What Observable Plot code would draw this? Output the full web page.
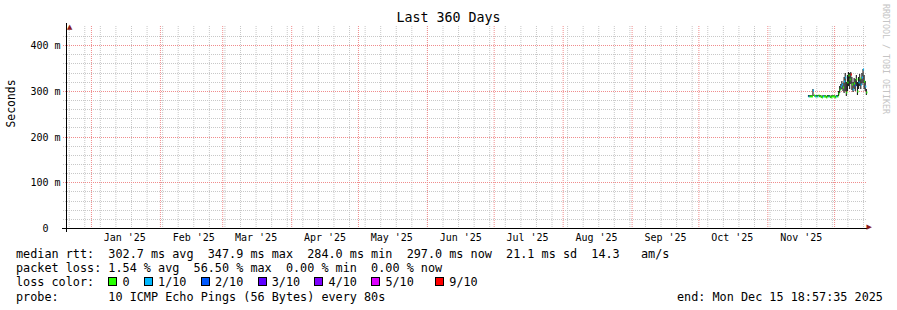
<!DOCTYPE html>
<html>
<head>
<meta charset="utf-8">
<script src="https://cdn.jsdelivr.net/npm/d3@7"></script>
<script src="https://cdn.jsdelivr.net/npm/@observablehq/plot@0.6"></script>
<style>
  body { margin: 0; background: #fff; }
  #wrap { position: relative; width: 897px; height: 310px; overflow: hidden; font-family: "DejaVu Sans Mono", monospace; color: #000; }
  #chart { position: absolute; left: 0; top: 0; }
  #title { position: absolute; left: 0; top: 10px; width: 897px; text-align: center; font-size: 13.3px; line-height: 16px; }
  #wm { position: absolute; left: 881px; top: 4px; writing-mode: vertical-rl; font-size: 8.3px; line-height: 10px; color: #c4c4c4; white-space: pre; }
  #legend { position: absolute; left: 16px; top: 247px; font-size: 11.8px; line-height: 14.2px; white-space: pre; }
  #legend .row { position: relative; height: 14.2px; }
  .box { display: inline-block; width: 9px; height: 9px; box-sizing: border-box; border: 1px solid #000; margin-right: calc(2ch - 9px); vertical-align: baseline; }
  #end { position: absolute; left: 661px; top: 0; }
</style>
</head>
<body>
<div id="wrap">
  <div id="chart"></div>
  <div id="title"></div>
  <div id="wm"></div>
  <div id="legend"></div>
</div>
<script>
// ---- data ----
const titleText = "Last 360 Days";
const yAxisTitle = "Seconds";
const watermark = "RRDTOOL / TOBI OETIKER";
const periodStart = new Date("2024-12-20T18:57:35Z");
const periodEnd = new Date("2025-12-15T18:57:35Z");
const seriesStart = new Date("2025-11-19T06:00:00Z");
const stepHours = 12;

const medianMs = [
  289,289,288,289,303,290,289,288,289,290,
  288,289,287,288,289,288,287,288,289,288,
  287,288,289,288,287,288,289,296,305,310,
  316,308,322,330,298,320,335,325,338,315,
  305,318,312,325,300,320,328,315,330,347,
  322,310,297
];
const smokeLowMs = [
  287,287,286,287,288,288,287,286,287,288,
  286,287,285,286,287,286,285,286,287,286,
  284,286,287,286,285,286,287,288,295,302,
  305,300,295,300,288,300,310,305,315,302,
  298,305,300,310,292,305,310,305,312,318,
  305,300,290
];
const smokeHighMs = [
  291,291,290,291,304,292,291,290,291,292,
  290,291,289,290,291,290,289,290,291,290,
  289,290,291,290,289,290,291,300,310,315,
  322,318,330,340,320,335,341,340,341,330,
  320,328,326,335,320,330,336,325,340,348,
  335,322,305
];
const lossPings = [
  1,0,0,0,1,0,1,0,1,0,
  0,0,0,1,0,0,0,0,1,0,
  0,0,0,0,0,1,0,0,0,1,
  1,0,1,1,0,0,0,0,6,0,
  1,0,2,0,0,1,0,1,1,1,
  0,1,0
];

const lossLevels = [0, 1, 2, 3, 4, 5, 6];
const lossLabels = ["0", "1/10", "2/10", "3/10", "4/10", "5/10", "9/10"];
const lossColors = ["#26ff00", "#00b8ff", "#0059ff", "#5e00ff", "#7e00ff", "#dd00ff", "#ff0000"];

const yTickValues = [0, 100, 200, 300, 400];
const yTickLabels = ["0\u00a0\u00a0", "100 m", "200 m", "300 m", "400 m"];
const monthLabels = ["Jan '25", "Feb '25", "Mar '25", "Apr '25", "May '25", "Jun '25", "Jul '25", "Aug '25", "Sep '25", "Oct '25", "Nov '25"];

const legendLine1 = "median rtt:  302.7 ms avg  347.9 ms max  284.0 ms min  297.0 ms now  21.1 ms sd  14.3   am/s";
const legendLine2 = "packet loss: 1.54 % avg  56.50 % max  0.00 % min  0.00 % now";
const legendLossTitle = "loss color:  ";
const probeLine = "probe:       10 ICMP Echo Pings (56 Bytes) every 80s";
const endLine = "end: Mon Dec 15 18:57:35 2025";

// ---- derived ----
const stepMs = stepHours * 3600 * 1000;
const rows = medianMs.map((m, i) => ({
  t0: new Date(+seriesStart + i * stepMs),
  t1: new Date(+seriesStart + (i + 1) * stepMs),
  med: m, lo: smokeLowMs[i], hi: smokeHighMs[i], loss: lossPings[i]
}));
function lossColor(l) {
  let c = lossColors[0];
  lossLevels.forEach((lv, k) => { if (l >= lv) c = lossColors[k]; });
  return c;
}
const monthStarts = d3.utcMonth.range(d3.utcMonth.ceil(periodStart), periodEnd);
const weekLines = d3.utcSunday.range(periodStart, periodEnd);
const labelDates = d3.utcMonth.range(d3.utcMonth.floor(periodStart), periodEnd)
  .map(d => d3.utcDay.offset(d, 15))
  .filter(d => d >= periodStart && d <= periodEnd);
const labelMap = new Map(labelDates.map((d, i) => [+d, monthLabels[i]]));
const yLabelMap = new Map(yTickValues.map((v, i) => [v, yTickLabels[i]]));
const yMinor = d3.range(20, 440, 20).filter(v => v % 100 !== 0);
const yMajor = yTickValues.filter(v => v > 0);

const minorGrid = "#c8c8c8";
const majorGrid = "#f08c8c";

const chart = Plot.plot({
  width: 897,
  height: 245,
  marginLeft: 66,
  marginRight: 30,
  marginTop: 26,
  marginBottom: 17,
  style: { fontFamily: "DejaVu Sans Mono", fontSize: "10px", color: "#000", background: "#fff" },
  x: {
    type: "utc", domain: [periodStart, periodEnd],
    ticks: labelDates, tickFormat: d => labelMap.get(+d) || "",
    tickSize: 0, tickPadding: 5.5, label: null
  },
  y: {
    domain: [0, 442], round: true,
    ticks: yTickValues, tickFormat: d => yLabelMap.get(d),
    tickSize: 0, tickPadding: 6, label: null
  },
  color: { type: "identity" },
  marks: [
    Plot.ruleX(weekLines, { stroke: minorGrid, strokeDasharray: "1,1" }),
    Plot.ruleY(yMinor, { stroke: minorGrid, strokeDasharray: "1,1", insetLeft: -3 }),
    Plot.ruleX(monthStarts, { stroke: majorGrid, strokeDasharray: "1,1" }),
    Plot.ruleY(yMajor, { stroke: majorGrid, strokeDasharray: "1,1", insetLeft: -3 }),
    Plot.rect(rows, { x1: "t0", x2: "t1", y1: "lo", y2: "hi", fill: "#1e1e1e" }),
    Plot.link(rows, { x1: "t0", x2: "t1", y1: "med", y2: "med", stroke: d => lossColor(d.loss), strokeWidth: 2 }),
    Plot.ruleY([0], { stroke: "#000", insetLeft: -4, insetRight: -1 }),
    Plot.ruleX([periodStart], { stroke: "#000", insetTop: -3, insetBottom: -4 }),
    Plot.text(["\u25B2"], { frameAnchor: "top-left", dx: 0.5, dy: -2, fill: "#8b1a1a", fontSize: 7, fontFamily: "DejaVu Sans" }),
    Plot.text(["\u25B6"], { frameAnchor: "bottom-right", dx: 4.5, dy: 0, fill: "#8b1a1a", fontSize: 7, fontFamily: "DejaVu Sans" }),
    Plot.text([yAxisTitle], { frameAnchor: "left", rotate: -90, dx: -55.5, fontSize: 11.4, fill: "#000" })
  ]
});
document.getElementById("chart").appendChild(chart);
document.getElementById("title").textContent = titleText;
document.getElementById("wm").textContent = watermark;

// ---- legend ----
const legend = document.getElementById("legend");
function addRow(text) {
  const r = document.createElement("div");
  r.className = "row";
  r.textContent = text;
  legend.appendChild(r);
  return r;
}
addRow(legendLine1);
addRow(legendLine2);
const lossRow = addRow(legendLossTitle);
lossLabels.forEach((lab, k) => {
  const b = document.createElement("span");
  b.className = "box";
  b.style.background = lossColors[k];
  lossRow.appendChild(b);
  const gap = k === lossLabels.length - 2 ? "   " : "  ";
  lossRow.appendChild(document.createTextNode(lab + (k < lossLabels.length - 1 ? gap : "")));
});
const probeRow = addRow(probeLine);
const endSpan = document.createElement("span");
endSpan.id = "end";
endSpan.textContent = endLine;
probeRow.appendChild(endSpan);
</script>
</body>
</html>
